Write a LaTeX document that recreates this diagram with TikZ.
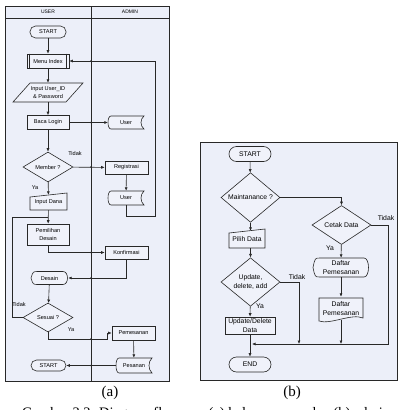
\documentclass[tikz,border=0pt]{standalone}
\usepackage{fontspec}
\setmainfont{Liberation Serif}
\newfontfamily\arialf{Liberation Sans}
\usetikzlibrary{shapes.geometric,calc,arrows.meta}
\definecolor{bgfill}{RGB}{236,239,249}
\definecolor{boxfill}{RGB}{240,242,250}
\definecolor{linec}{RGB}{40,40,40}
\newcommand\fa{\arialf\fontsize{5.6}{7.5}\selectfont}
\newcommand\fb{\arialf\fontsize{6.8}{9}\selectfont}
% stored data: [font] name, x, y, w, h, text
\newcommand\sdnode[7][\fa]{%
  \filldraw[shp] ({#3-#5/2+3},{#4-#6/2}) -- ({#3+#5/2},{#4-#6/2})
    .. controls ({#3+#5/2-4},{#4-#6/4}) and ({#3+#5/2-4},{#4+#6/4}) .. ({#3+#5/2},{#4+#6/2})
    -- ({#3-#5/2+3},{#4+#6/2})
    .. controls ({#3-#5/2-1},{#4+#6/2}) and ({#3-#5/2-1},{#4-#6/2}) .. cycle;
  \node[txt, font=#1, minimum width=#5, minimum height=#6] (#2) at (#3,#4) {#7};}
% manual input
\newcommand\minode[7][\fa]{%
  \filldraw[shp] ({#3-#5/2},{#4-#6/2+4}) -- ({#3+#5/2},{#4-#6/2}) -- ({#3+#5/2},{#4+#6/2}) -- ({#3-#5/2},{#4+#6/2}) -- cycle;
  \node[txt, font=#1, minimum width=#5, minimum height=#6-2] (#2) at (#3,{#4+1}) {#7};}
% display
\newcommand\dispnode[7][\fa]{%
  \filldraw[shp] ({#3-#5/2+7},{#4-#6/2}) -- ({#3+#5/2-5},{#4-#6/2})
    .. controls ({#3+#5/2+1},{#4-#6/2}) and ({#3+#5/2+1},{#4+#6/2}) .. ({#3+#5/2-5},{#4+#6/2})
    -- ({#3-#5/2+7},{#4+#6/2})
    .. controls ({#3-#5/2+2},{#4+#6/2}) .. ({#3-#5/2},{#4})
    .. controls ({#3-#5/2+2},{#4-#6/2}) .. cycle;
  \node[txt, font=#1, minimum width=#5, minimum height=#6] (#2) at (#3,#4) {#7};}
% document
\newcommand\docnode[7][\fa]{%
  \filldraw[shp] ({#3-#5/2},{#4-#6/2}) -- ({#3+#5/2},{#4-#6/2}) -- ({#3+#5/2},{#4+#6/2-3})
    .. controls ({#3+#5/4},{#4+#6/2-8}) and ({#3-#5/4},{#4+#6/2+4}) .. ({#3-#5/2},{#4+#6/2}) -- cycle;
  \node[txt, font=#1, minimum width=#5, minimum height=#6] (#2) at (#3,{#4-1}) {#7};}
\begin{document}
\begin{tikzpicture}[x=1pt,y=-1pt,
  shp/.style={draw=linec, fill=boxfill, line width=0.6pt},
  txt/.style={inner sep=0pt, align=center},
  box/.style={draw=linec, fill=boxfill, line width=0.6pt, inner sep=0pt, align=center, font=\fa},
  terma/.style={box, rounded corners=5.5pt, minimum width=36pt, minimum height=12pt},
  termb/.style={box, font=\fb, rounded corners=7.5pt, minimum width=42pt, minimum height=15pt},
  dia/.style={box, diamond, inner sep=0pt},
  conn/.style={draw=linec, line width=0.6pt},
  arr/.style={conn, -{Latex[length=3.5pt,width=3pt]}},
  lbl/.style={font=\fa, inner sep=0pt},
  lblb/.style={font=\fb, inner sep=0pt},
  jdot/.style={circle, fill=linec, inner sep=0pt, minimum size=1.6pt}]
\useasboundingbox (0,0) rectangle (400,410);
\clip (0,0) rectangle (400,410);
\fill[white] (0,0) rectangle (400,410);
% ---------- panel (a)
\filldraw[draw=linec, fill=bgfill, line width=0.6pt] (5,6) rectangle (169,381);
\draw[conn] (5,18) -- (169,18);
\draw[conn] (91,6) -- (91,381);
\node[lbl, font=\arialf\fontsize{5}{6}\selectfont] (hu) at (48,12) {USER};
\node[lbl, font=\arialf\fontsize{5}{6}\selectfont] (ha) at (130,12) {ADMIN};

\node[terma] (startA) at (48,32) {START};
\node[box, minimum width=42pt, minimum height=14pt] (menu) at (48,61) {Menu Index};
\draw[conn] ([xshift=3pt]menu.north west) -- ([xshift=3pt]menu.south west);
\draw[conn] ([xshift=-3pt]menu.north east) -- ([xshift=-3pt]menu.south east);
\filldraw[shp] (13,102) -- (66,102) -- (83,83) -- (30,83) -- cycle;
\node[txt, font=\fa, minimum height=19pt] (inp) at (48,92.5) {Input User\_ID\\\& Password};
\node[box, minimum width=42pt, minimum height=14pt] (baca) at (48,122.5) {Baca Login};
\sdnode{user1}{126}{122.5}{36}{13}{User}
\node[dia, minimum width=50pt, minimum height=30pt] (member) at (48,167) {Member ?};
\node[box, minimum width=43pt, minimum height=13pt] (reg) at (126.5,167.5) {Registrasi};
\sdnode{user2}{126}{198}{36}{14}{User}
\minode{dana}{48.5}{201.5}{37}{17}{Input Dana}
\node[box, minimum width=42pt, minimum height=21pt] (pem) at (48,234.5) {Pemilihan\\Desain};
\node[box, minimum width=43pt, minimum height=13pt] (konf) at (126.5,252.5) {Konfirmasi};
\dispnode{desain}{49.5}{278}{37}{13}{Desain}
\node[dia, minimum width=50pt, minimum height=29pt] (sesuai) at (48,317.5) {Sesuai ?};
\node[box, minimum width=43pt, minimum height=14pt] (pemes) at (133.5,333) {Pemesanan};
\sdnode{pesanan}{134}{365.5}{36}{15}{Pesanan}
\node[terma, minimum width=35pt, minimum height=11pt] (startB) at (48.5,365.5) {START};

\coordinate (c1) at (126,216);
\coordinate (c2) at (155,216);
\coordinate (c3) at (155,61);
\coordinate (l1) at (12,217);
\coordinate (l2) at (48,217);
\coordinate (p1) at (48,252.5);
\coordinate (k1) at (126.5,278);
\coordinate (s1) at (48,339);
\coordinate (s2) at (107,339);
\coordinate (s3) at (107,333);

\draw[arr] (startA) -- (menu);
\draw[arr] (menu) -- (inp);
\draw[arr] (inp) -- (baca);
\draw[arr] (baca) -- (user1);
\draw[arr] (baca) -- (member);
\draw[arr] (member) -- (reg);
\draw[arr] (reg) -- (user2);
\draw[arr] (user2.south) -- (c1) -- (c2) -- (c3) -- (menu.east);
\draw[arr] (member) -- (dana);
\draw[arr] (dana) -- (pem);
\draw[conn] (sesuai.west) -| (l1) -- (l2);
\draw[arr] (pem.south) -- (p1) -- (konf.west);
\draw[arr] (konf.south) -- (k1) -- (desain.east);
\draw[arr] (desain) -- (sesuai);
\draw[arr] (sesuai.south) -- (s1) -- (s2) -- (s3) -- (pemes.west);
\draw[arr] (pemes) -- (pesanan);
\draw[arr] (pesanan.west) -- (startB.east);

\node[lbl] (t1) at (75,153) {Tidak};
\node[lbl] (y1) at (35,188) {Ya};
\node[lbl] (t2) at (19,304) {Tidak};
\node[lbl] (y2) at (71,330) {Ya};

\foreach \yy in {61,122.5,167,252.5,278,339,365.5} \node[jdot] at (91,\yy) {};

\node[font=\fontsize{15}{18}\selectfont, inner sep=0pt] (capa) at (110,393) {(a)};

% ---------- panel (b)
\filldraw[draw=linec, fill=bgfill, line width=0.8pt] (200,142) rectangle (397,380);
\node[termb] (startC) at (250,154) {START};
\node[dia, font=\fb, minimum width=59pt, minimum height=35pt] (maint) at (250.5,197.5) {Maintanance ?};
\minode[\fb]{pilih}{247}{238.5}{36}{19}{Pilih Data}
\node[dia, font=\fb, minimum width=59pt, minimum height=34pt] (cetak) at (341.5,225) {Cetak Data};
\dispnode[\fb]{dp1}{341}{267.5}{56}{19}{Daftar\\Pemesanan}
\docnode[\fb]{dp2}{341}{309.5}{44}{23}{Daftar\\Pemesanan}
\node[dia, font=\fb, minimum width=59pt, minimum height=36pt] (upd) at (250.5,282) {Update,\\delete, add};
\node[box, font=\fb, minimum width=50pt, minimum height=17pt] (updd) at (250,325.5) {Update/Delete\\Data};
\node[termb] (endB) at (250,364.5) {END};

\coordinate (m1) at (341.5,197.5);
\coordinate (u1) at (299,282);
\coordinate (u2) at (299,344);
\coordinate (e1) at (388,225);
\coordinate (e2) at (388,344);
\coordinate (e3) at (252,344);
\coordinate (d1) at (341,344);

\draw[arr] (startC) -- (maint);
\draw[arr] (maint.south) -- (maint.south |- pilih.north);
\draw[arr] (maint.east) -- (m1) -- (cetak.north);
\draw[arr] (pilih.south -| upd.north) -- (upd.north);
\draw[arr] (upd) -- (updd);
\draw[arr] (updd) -- (endB);
\draw[arr] (upd.east) -- (u1) -- (u2);
\draw[arr] (cetak.east) -- (e1) -- (e2) -- (e3);
\draw[arr] (cetak) -- (dp1);
\draw[arr] (dp1.south) -- (dp2.north);
\draw[arr] (dp2.south) -- (d1);

\node[lblb] (t3) at (386,218) {Tidak};
\node[lblb] (y3) at (330,248) {Ya};
\node[lblb] (t4) at (297,277) {Tidak};
\node[lblb] (y4) at (260,306) {Ya};

\node[font=\fontsize{15}{18}\selectfont, inner sep=0pt] (capb) at (292,393) {(b)};

\node[font=\fontsize{14.5}{18}\selectfont, inner sep=0pt, anchor=base west] (cap) at (22,417.5) {Gambar 3.3. Diagram flowmap (a) halaman user dan (b) admin};
\end{tikzpicture}
\end{document}
